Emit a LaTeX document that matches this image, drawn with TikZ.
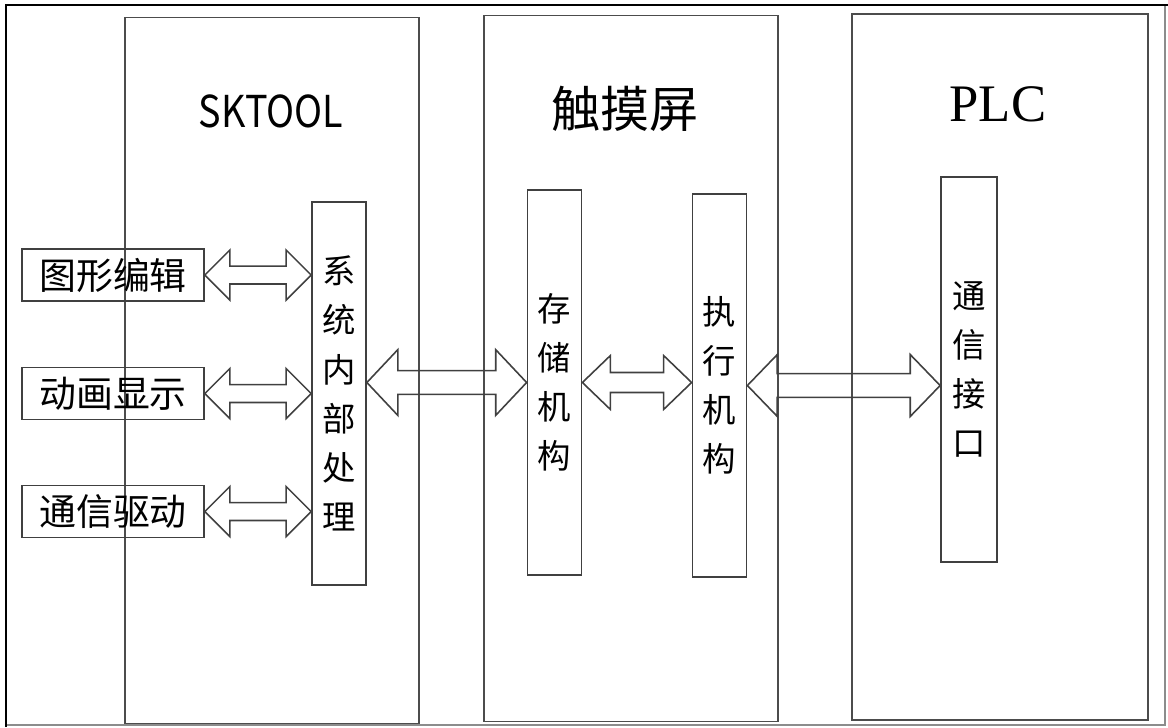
\documentclass[tikz,border=0pt]{standalone}
\usepackage{fontspec}
\newfontfamily\cjk{Noto Sans CJK SC}
\newfontfamily\latinserif{Liberation Serif}
\usetikzlibrary{calc}

\tikzset{
  panel/.style={draw=black!70, line width=1pt, minimum width=5.88cm, minimum height=14.12cm, inner sep=0pt},
  hbox/.style={draw=black!75, line width=1pt, minimum width=3.64cm, minimum height=1.04cm, inner sep=0pt,
    font=\cjk\fontsize{21}{21}\selectfont},
  vbox/.style={draw=black!75, line width=1pt, minimum width=1.08cm, inner sep=0pt, align=center,
    font=\cjk\fontsize{19}{28}\selectfont},
  biarrowline/.style={draw=black!75, line width=0.9pt, line join=miter},
}

% double arrow: from, to, half shaft, half head, head length
\newcommand\biarrow[5]{%
  \draw[biarrowline] let \p1=(#1), \p2=(#2) in
    (\x1,\y1) -- (\x1+#5,\y1+#4) -- (\x1+#5,\y1+#3) -- (\x2-#5,\y1+#3) -- (\x2-#5,\y1+#4)
    -- (\x2,\y1) -- (\x2-#5,\y1-#4) -- (\x2-#5,\y1-#3) -- (\x1+#5,\y1-#3) -- (\x1+#5,\y1-#4) -- cycle;}

\begin{document}
\begin{tikzpicture}[x=0.02cm, y=-0.02cm]
    \useasboundingbox (0,0) rectangle (1168,727);

    % moldura
    \draw[black!45, line width=0.6pt] (1165,5) -- (1165,725) -- (6,725);
    \draw[black, line width=1.6pt] (6,727) -- (6,5) -- (1168,5);

    % três blocos
    \node[panel] (psk) at (272,370.5) {};
    \node[panel] (ptp) at (631,368.5) {};
    \node[panel, minimum width=5.92cm] (pplc) at (1000,367) {};

    \node[font=\cjk\fontsize{25}{25}\selectfont, inner sep=0pt, transform shape, xscale=0.86] (tsk) at (271,111) {SKTOOL};
    \node[font=\cjk\fontsize{28}{28}\selectfont, inner sep=0pt] (ttp) at (625,109) {触摸屏};
    \node[font=\latinserif\fontsize{30}{30}\selectfont, inner sep=0pt] (tplc) at (998,104.5) {PLC};

    % SKTOOL
    \node[hbox] (ge) at (113,275) {图形编辑};
    \node[hbox] (dh) at (113,393.5) {动画显示};
    \node[hbox] (tx) at (113,511.5) {通信驱动};
    \node[vbox, minimum height=7.66cm] (sys) at (339,393.5) {系\\统\\内\\部\\处\\理};

    % 触摸屏
    \node[vbox, minimum height=7.7cm] (store) at (554.5,382.5) {存\\储\\机\\构};
    \node[vbox, minimum height=7.66cm] (exec) at (719.5,385.5) {执\\行\\机\\构};

    % PLC
    \node[vbox, minimum height=7.7cm, minimum width=1.12cm] (iface) at (969,369.5) {通\\信\\接\\口};

    % setas
    \foreach \b in {ge,dh,tx}{
        \biarrow{\b.east}{sys.west |- \b.east}{5.1pt}{14.2pt}{14.2pt}
    }
    \biarrow{sys.east |- store.west}{store.west}{6.8pt}{18.7pt}{17.6pt}
    \biarrow{store.east}{exec.west |- store.east}{5.7pt}{15.3pt}{15.9pt}
    \biarrow{exec.east}{iface.west |- exec.east}{6.8pt}{17.6pt}{17pt}
\end{tikzpicture}
\end{document}
